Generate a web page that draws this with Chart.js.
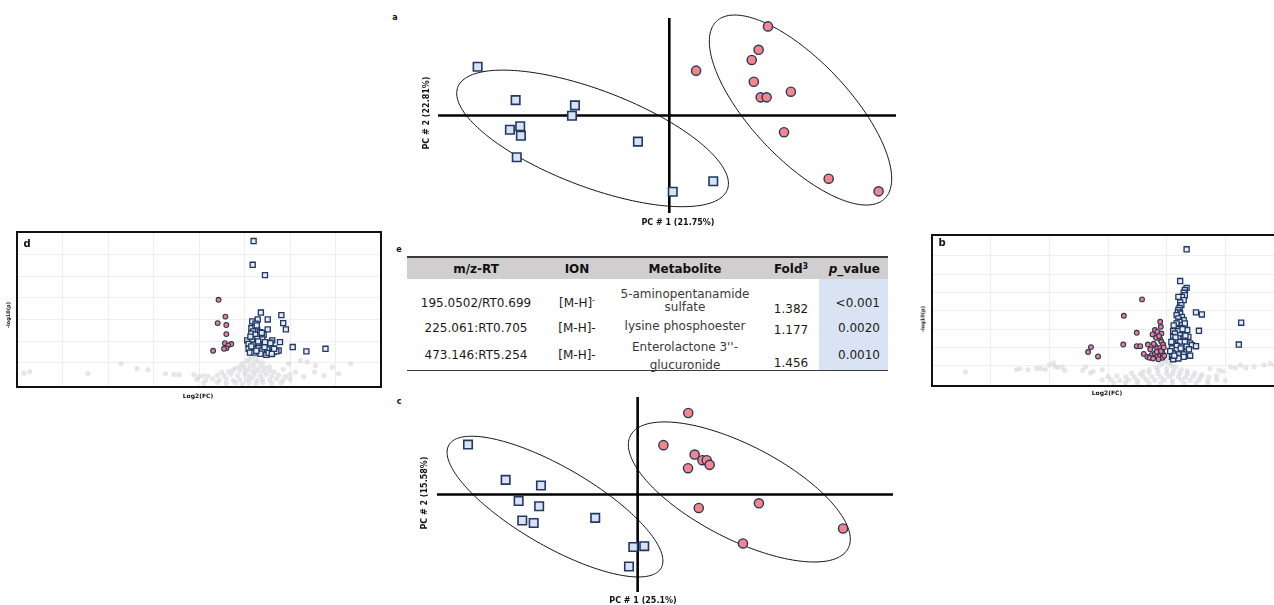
<!DOCTYPE html>
<html>
<head>
<meta charset="utf-8">
<title>PCA, volcano plots and metabolite table</title>
<script src="https://cdn.jsdelivr.net/npm/chart.js@4.4.1/dist/chart.umd.min.js"></script>
<style>
  html, body { margin: 0; padding: 0; background: #fff; }
  body { position: relative; width: 1274px; height: 605px; overflow: hidden; font-family: "DejaVu Sans", Verdana, sans-serif; }
  canvas { position: absolute; }
  .lbl { position: absolute; white-space: nowrap; transform: translate(-50%, -50%); color: #111; line-height: 1; }
  .bold { font-weight: bold; }
  .cell { position: absolute; white-space: nowrap; font-size: 12px; line-height: 1; color: #1a1a1a; }
</style>
</head>
<body>
<canvas id="pcaA" width="478" height="215" style="left:428px; top:8px"></canvas>
<canvas id="pcaC" width="476" height="215" style="left:427px; top:387px"></canvas>
<canvas id="volD" width="384" height="175" style="left:7px; top:222px"></canvas>
<canvas id="volB" width="372" height="171" style="left:922px; top:225px"></canvas>
<div id="tbl"></div>

<script>
// ---------- PCA score plot a ----------
const pcaA_control = [[-8.37,2.50],[-6.71,0.79],[-4.12,0.52],[-4.25,-0.01],[-6.51,-0.55],[-6.96,-0.73],
  [-6.48,-1.04],[-6.66,-2.14],[-1.37,-1.34],[1.92,-3.37],[0.15,-3.91]];
const pcaA_treated = [[4.31,4.57],[3.90,3.37],[3.60,2.85],[1.17,2.30],[3.69,1.73],[5.31,1.22],
  [3.99,0.93],[4.25,0.93],[5.01,-0.86],[6.96,-3.24],[9.14,-3.89]];
const pcaA_xRange = [-10.1, 9.9];
const pcaA_yRange = [-5, 5];
// confidence ellipses: [centre x, centre y, semi-axis 1, semi-axis 2, rotation (deg)]
const pcaA_ellipseControl = [-3.35, -1.175, 6.45, 2.42, -25.05];
const pcaA_ellipseTreated = [5.73, 0.28, 5.86, 2.29, -52.86];

// ---------- PCA score plot c ----------
const pcaC_control = [[-7.44,2.56],[-5.79,0.75],[-4.24,0.46],[-5.22,-0.33],[-4.32,-0.60],[-5.06,-1.33],
  [-4.56,-1.46],[-1.86,-1.20],[-0.19,-2.69],[0.29,-2.65],[-0.38,-3.69]];
const pcaC_treated = [[2.22,4.18],[1.13,2.53],[2.50,2.05],[2.84,1.76],[3.03,1.76],[3.16,1.52],
  [2.21,1.35],[2.68,-0.69],[5.32,-0.45],[9.01,-1.74],[4.62,-2.51]];
const pcaC_xRange = [-8.8, 11.2];
const pcaC_yRange = [-5, 5];
const pcaC_ellipseControl = [-3.625, -0.62, 5.63, 1.93, -35.2];
const pcaC_ellipseTreated = [4.46, 0.13, 5.59, 2.31, -32.7];

// ---------- volcano plot d ----------
const volD_up = [[0.20,6.63],[0.18,5.53],[0.45,5.05],[0.36,3.32],[0.81,3.20],[0.85,2.83],[0.91,2.54],
  [0.29,3.00],[0.51,3.00],[0.17,2.91],[0.24,2.80],[0.51,2.54],[0.15,2.60],[0.24,2.65],[0.28,2.49],
  [0.19,2.44],[0.34,2.41],[0.15,2.34],[0.24,2.29],[0.35,2.26],[0.42,2.29],[0.06,2.03],[0.17,2.07],
  [0.28,2.10],[0.39,2.07],[0.61,2.03],[0.78,1.95],[0.09,1.87],[0.20,1.83],[0.31,1.87],[0.46,1.80],
  [0.57,1.92],[0.09,1.64],[0.20,1.64],[0.31,1.67],[0.39,1.56],[0.50,1.61],[0.64,1.64],[0.75,1.56],
  [0.12,1.46],[0.22,1.46],[0.35,1.41],[0.48,1.36],[0.64,1.49],[0.70,1.52],[1.06,1.72],[1.36,1.52],
  [1.78,1.64],[0.13,2.20],[0.30,1.98],[0.44,1.72],[0.26,1.55],[0.53,1.45],[0.15,1.75],[0.38,2.38],
  [0.27,2.72],[0.45,1.95],[0.60,1.40],[0.57,1.90],[0.65,1.64]];
const volD_down = [[-0.57,3.91],[-0.42,3.13],[-0.59,2.83],[-0.40,2.74],[-0.40,2.32],[-0.43,1.90],
  [-0.29,1.86],[-0.36,1.80],[-0.40,1.67],[-0.45,1.64],[-0.69,1.55]];
const volD_ns = [[-4.85,0.51],[-4.72,0.58],[-3.44,0.49],[-2.71,0.95],[-2.36,0.73],[-2.12,0.67],
  [-1.74,0.49],[-1.55,0.45],[-1.44,0.44],[-1.11,0.45],[-1.0,0.35],[-0.9,0.4],
  [0.97,0.95],[1.23,1.10],[1.38,1.02],[1.56,0.87],[1.12,0.56],[1.54,0.56],[1.93,0.79],[2.07,0.49],
  [2.33,0.95],[1.75,0.4],[0.85,0.7],[1.0,0.45],[1.3,0.35],
  [0.15,1.25],[0.25,1.2],[0.1,1.15],[0.05,1.05],[0.2,1.0],[0.3,1.05],[0.4,0.98],[-0.05,0.95],
  [-0.1,0.82],[0.0,0.78],[0.12,0.85],[0.22,0.8],[0.35,0.82],[0.45,0.75],[0.55,0.8],[-0.2,0.75],
  [-0.35,0.6],[-0.25,0.65],[-0.1,0.62],[0.02,0.6],[0.1,0.66],[0.2,0.58],[0.3,0.64],[0.42,0.6],
  [0.55,0.62],[0.65,0.58],[-0.5,0.55],
  [-0.8,0.38],[-0.6,0.42],[-0.45,0.4],[-0.3,0.45],[-0.15,0.4],[0.0,0.44],[0.1,0.38],[0.22,0.42],
  [0.35,0.4],[0.48,0.45],[0.6,0.38],[0.75,0.42],[0.9,0.36],
  [-1.05,0.22],[-0.85,0.18],[-0.7,0.25],[-0.55,0.2],[-0.4,0.24],[-0.25,0.18],[-0.1,0.22],[0.05,0.2],
  [0.15,0.25],[0.28,0.18],[0.4,0.22],[0.55,0.2],[0.7,0.24],[0.85,0.18],[1.0,0.22],
  [-0.9,0.05],[-0.6,0.08],[-0.4,0.04],[-0.2,0.07],[-0.05,0.03],[0.1,0.06],[0.25,0.04],[0.4,0.08],
  [0.6,0.05],[0.8,0.07]];
const volD_xRange = [-5, 3];
const volD_yRange = [-0.13, 7.05];
const volD_xTicks = [-4, -3, -2, -1, 0, 1, 2];
const volD_yTicks = [1, 2, 3, 4, 5, 6];

// ---------- volcano plot b ----------
const volB_up = [[0.34,7.35],[0.23,5.62],[0.34,5.25],[0.31,5.13],[0.29,4.98],[0.31,4.85],[0.26,4.76],
  [0.20,4.76],[0.29,4.58],[0.23,4.45],[0.25,4.31],[0.22,4.16],[0.20,4.04],[0.19,3.91],[0.23,3.85],
  [0.17,3.76],[0.26,3.67],[0.20,3.58],[0.29,3.49],[0.22,3.40],[0.17,3.31],[0.26,3.22],[0.31,3.31],
  [0.23,3.07],[0.17,3.00],[0.11,2.89],[0.20,2.89],[0.29,2.85],[0.14,2.76],[0.23,2.67],[0.31,2.76],
  [0.11,2.58],[0.20,2.49],[0.29,2.49],[0.37,2.58],[0.14,2.40],[0.23,2.31],[0.31,2.31],[0.40,2.22],
  [0.11,2.22],[0.17,2.09],[0.26,2.04],[0.34,2.04],[0.43,2.13],[0.09,1.95],[0.17,1.85],[0.26,1.80],
  [0.34,1.76],[0.11,1.67],[0.20,1.62],[0.29,1.62],[0.09,1.49],[0.16,1.44],[0.29,1.49],[0.40,1.55],
  [0.11,1.36],[0.20,1.40],[0.50,3.91],[0.60,3.80],[0.55,2.91],[0.50,2.07],[1.27,3.35],[1.23,2.16],
  [0.12,3.20],[0.15,2.55],[0.08,2.30],[0.06,1.80],[0.35,2.95],[0.38,1.90],[0.13,1.55],[0.24,1.95],
  [0.32,2.65],[0.27,3.00]];
const volB_down = [[-0.42,4.62],[-0.73,3.73],[-0.11,3.40],[-0.10,3.13],[-0.20,2.95],[-0.16,2.85],
  [-0.24,2.71],[-0.09,2.76],[-0.51,2.80],[-0.18,2.53],[-0.11,2.45],[-0.09,2.31],[-0.06,2.16],
  [-0.74,2.16],[-0.51,2.07],[-0.45,2.07],[-0.32,2.16],[-0.20,2.09],[-0.16,1.95],[-0.11,1.98],
  [-0.08,1.85],[-1.29,2.02],[-1.34,1.75],[-1.17,1.51],[-0.39,1.65],[-0.33,1.49],[-0.26,1.58],
  [-0.20,1.67],[-0.16,1.49],[-0.11,1.55],[-0.07,1.44],[-0.29,1.44],[-0.23,1.40],[-0.14,1.36],
  [-0.07,1.67],[-0.10,1.80],[-0.17,1.76],[-0.05,2.00],[-0.13,2.62],[-0.22,2.20],[-0.04,1.55],
  [-0.28,1.90]];
const volB_ns = [[-3.43,0.67],[-2.56,0.80],[-2.5,0.84],[-2.36,0.80],[-2.22,0.86],[-2.15,0.86],
  [-2.07,0.8],[-2.0,1.04],[-1.93,1.16],[-1.9,0.95],[-1.85,0.92],[-1.78,0.95],[-1.74,0.76],
  [-1.43,0.76],[-1.38,0.95],[-1.30,0.62],[-1.25,0.7],[-1.1,0.8],
  [0.74,0.85],[0.89,0.76],[0.95,0.7],[1.09,0.95],[1.17,0.88],[1.26,1.04],[1.35,0.9],[1.49,0.95],
  [1.66,1.04],[1.77,1.13],[1.85,1.0],[1.95,1.05],
  [0.0,1.3],[-0.05,1.2],[0.05,1.15],[-0.1,1.05],[0.08,1.02],[0.15,0.95],[-0.18,0.92],
  [-0.3,0.8],[-0.15,0.78],[0.0,0.82],[0.12,0.75],[0.25,0.8],[0.35,0.72],[-0.4,0.7],
  [-0.6,0.6],[-0.45,0.55],[-0.3,0.62],[-0.15,0.58],[0.0,0.6],[0.1,0.55],[0.22,0.6],[0.35,0.55],
  [0.48,0.6],[0.6,0.52],
  [-1.0,0.42],[-0.85,0.45],[-0.7,0.4],[-0.55,0.38],[-0.4,0.42],[-0.25,0.4],[-0.1,0.38],[0.05,0.42],
  [0.2,0.4],[0.32,0.36],[0.45,0.42],[0.58,0.38],[0.72,0.4],[0.85,0.45],
  [-1.1,0.22],[-0.95,0.25],[-0.8,0.2],[-0.65,0.24],[-0.5,0.2],[-0.35,0.25],[-0.2,0.2],[-0.05,0.22],
  [0.1,0.2],[0.25,0.24],[0.4,0.2],[0.55,0.22],[0.7,0.2],[0.85,0.24],[1.0,0.2],
  [-0.9,0.06],[-0.7,0.08],[-0.5,0.05],[-0.3,0.07],[-0.1,0.04],[0.1,0.06],[0.3,0.05],[0.5,0.08],
  [0.7,0.05]];
const volB_xRange = [-4, 2];
const volB_yRange = [-0.1, 8.13];
const volB_xTicks = [-3, -2, -1, 0, 1];
const volB_yTicks = [1, 2, 3, 4, 5, 6, 7];

// ---------- table e ----------
const tableHeaders = ['m/z-RT', 'ION', 'Metabolite', 'Fold<sup style="font-size:8px;vertical-align:4px">3</sup>', '<i>p</i>_value'];
const mzRT = ['195.0502/RT0.699', '225.061:RT0.705', '473.146:RT5.254'];
const ionType = ['[M-H]<sup style="font-size:8px;vertical-align:4px">-</sup>', '[M-H]-', '[M-H]-'];
const metabolite = [['5-aminopentanamide', 'sulfate'], ['lysine phosphoester'], ["Enterolactone 3''-", 'glucuronide']];
const foldChange = ['1.382', '1.177', '1.456'];
const pValue = ['<0.001', '0.0020', '0.0010'];

// ---------- shared drawing helpers ----------
const toPts = arr => arr.map(([x, y]) => ({ x, y }));

const ellipsePlugin = {
  id: 'ellipses',
  beforeDatasetsDraw(chart, args, opts) {
    const { ctx } = chart;
    const xs = chart.scales.x, ys = chart.scales.y;
    ctx.save();
    ctx.strokeStyle = '#111';
    ctx.lineWidth = 1;
    for (const [cx, cy, r1, r2, deg] of (opts.list || [])) {
      const th = deg * Math.PI / 180;
      ctx.beginPath();
      for (let i = 0; i <= 240; i++) {
        const t = i / 240 * 2 * Math.PI;
        const dx = r1 * Math.cos(t), dy = r2 * Math.sin(t);
        const px = xs.getPixelForValue(cx + dx * Math.cos(th) - dy * Math.sin(th));
        const py = ys.getPixelForValue(cy + dx * Math.sin(th) + dy * Math.cos(th));
        if (i === 0) ctx.moveTo(px, py); else ctx.lineTo(px, py);
      }
      ctx.closePath();
      ctx.stroke();
    }
    ctx.restore();
  }
};

const framePlugin = {
  id: 'frame',
  afterDraw(chart) {
    const { ctx, chartArea: a } = chart;
    ctx.save();
    ctx.strokeStyle = '#111';
    ctx.lineWidth = 2;
    ctx.strokeRect(a.left, a.top, a.right - a.left, a.bottom - a.top);
    ctx.restore();
  }
};

function pcaChart(id, control, treated, xr, yr, ellipses) {
  return new Chart(document.getElementById(id), {
    type: 'scatter',
    data: {
      datasets: [
        { data: toPts(control), pointStyle: 'rect', pointRadius: 6, backgroundColor: '#d9e2f3',
          borderColor: '#1f3864', borderWidth: 1.6, order: 0, clip: false },
        { data: toPts(treated), pointStyle: 'circle', pointRadius: 4.6, backgroundColor: '#f4868a',
          borderColor: '#263661', borderWidth: 1.4, order: 1, clip: false },
        { type: 'line', data: [{ x: xr[0], y: 0 }, { x: xr[1], y: 0 }], borderColor: '#000',
          borderWidth: 2.6, pointRadius: 0, order: 5, clip: false },
        { type: 'line', data: [{ x: 0, y: yr[0] }, { x: 0, y: yr[1] }], borderColor: '#000',
          borderWidth: 2.6, pointRadius: 0, order: 5, clip: false }
      ]
    },
    options: {
      responsive: false, animation: false, events: [],
      layout: { padding: 10 },
      plugins: { legend: { display: false }, tooltip: { enabled: false }, ellipses: { list: ellipses } },
      scales: {
        x: { type: 'linear', min: xr[0], max: xr[1], display: false },
        y: { type: 'linear', min: yr[0], max: yr[1], display: false }
      }
    },
    plugins: [ellipsePlugin]
  });
}

function volcanoChart(id, up, down, ns, xr, yr, xTicks, yTicks) {
  const grid = { color: '#eeeeee', lineWidth: 1, drawTicks: false };
  return new Chart(document.getElementById(id), {
    type: 'scatter',
    data: {
      datasets: [
        { data: toPts(up), pointStyle: 'rect', pointRadius: 3.6, backgroundColor: '#e4ebf7',
          borderColor: '#1f3864', borderWidth: 1.3, order: 0 },
        { data: toPts(down), pointStyle: 'circle', pointRadius: 2.4, backgroundColor: '#f07f86',
          borderColor: '#26355e', borderWidth: 1.1, order: 1 },
        { data: toPts(ns), pointStyle: 'circle', pointRadius: 2.6, backgroundColor: 'rgba(212,212,216,0.55)',
          borderWidth: 0, order: 2 }
      ]
    },
    options: {
      responsive: false, animation: false, events: [],
      layout: { padding: 10 },
      plugins: { legend: { display: false }, tooltip: { enabled: false } },
      scales: {
        x: { type: 'linear', min: xr[0], max: xr[1], grid, border: { display: false },
             ticks: { display: false },
             afterBuildTicks: s => { s.ticks = xTicks.map(v => ({ value: v })); },
             afterFit: s => { s.height = 0; } },
        y: { type: 'linear', min: yr[0], max: yr[1], grid, border: { display: false },
             ticks: { display: false },
             afterBuildTicks: s => { s.ticks = yTicks.map(v => ({ value: v })); },
             afterFit: s => { s.width = 0; } }
      }
    },
    plugins: [framePlugin]
  });
}

pcaChart('pcaA', pcaA_control, pcaA_treated, pcaA_xRange, pcaA_yRange, [pcaA_ellipseControl, pcaA_ellipseTreated]);
pcaChart('pcaC', pcaC_control, pcaC_treated, pcaC_xRange, pcaC_yRange, [pcaC_ellipseControl, pcaC_ellipseTreated]);
volcanoChart('volD', volD_up, volD_down, volD_ns, volD_xRange, volD_yRange, volD_xTicks, volD_yTicks);
volcanoChart('volB', volB_up, volB_down, volB_ns, volB_xRange, volB_yRange, volB_xTicks, volB_yTicks);

// ---------- text: panel letters and axis titles ----------
function label(text, x, y, size, rotate) {
  const d = document.createElement('div');
  d.className = 'lbl bold';
  d.style.left = x + 'px';
  d.style.top = y + 'px';
  d.style.fontSize = size + 'px';
  d.style.transform = 'translate(-50%, -50%)' + (rotate ? ' rotate(-90deg)' : '');
  d.textContent = text;
  document.body.appendChild(d);
}
label('a', 395, 18, 8);
label('c', 399, 402, 8);
label('e', 399, 250, 8);
label('d', 27, 244, 10);
label('b', 942, 243, 10);
label('PC # 2 (22.81%)', 427, 113, 8, true);
label('PC # 1 (21.75%)', 678, 223, 8);
label('PC # 2 (15.58%)', 425, 493, 8, true);
label('PC # 1 (25.1%)', 643, 601, 8);
label('-log10(p)', 8, 315, 5, true);
label('Log2(FC)', 198, 396, 6);
label('-log10(p)', 923, 319, 5, true);
label('Log2(FC)', 1107, 393, 6);

// ---------- table e ----------
(function buildTable() {
  const host = document.getElementById('tbl');
  const box = (l, t, w, h, css) => {
    const d = document.createElement('div');
    d.style.cssText = `position:absolute;left:${l}px;top:${t}px;width:${w}px;height:${h}px;${css}`;
    host.appendChild(d);
  };
  // header band, shaded p-value column, rules
  box(407, 257, 481, 22, 'background:#d0cece;');
  box(819, 279, 69, 92, 'background:#dae3f3;');
  box(407, 256, 481, 2, 'background:#3a3a3a;');
  box(407, 370, 481, 1, 'background:#3a3a3a;');

  const cell = (html, x, y, align, css) => {
    const d = document.createElement('div');
    d.className = 'cell';
    d.innerHTML = html;
    d.style.left = x + 'px';
    d.style.top = y + 'px';
    const tx = align === 'right' ? '-100%' : '-50%';
    d.style.transform = `translate(${tx}, -50%)`;
    if (css) d.style.cssText += css;
    host.appendChild(d);
  };
  const colX = [476, 577, 685, 791, 880];
  const colAlign = ['center', 'center', 'center', 'center', 'right'];
  tableHeaders.forEach((h, i) => cell(h, colX[i], 268.5, colAlign[i], 'font-weight:bold;color:#111;'));

  const rowMid = [303, 327.5, 355];
  const rowFold = [308.5, 330, 363];
  const metaLines = [[293.5, 306.5], [326], [346.5, 365]];
  for (let r = 0; r < mzRT.length; r++) {
    cell(mzRT[r], colX[0], rowMid[r], 'center');
    cell(ionType[r], colX[1], rowMid[r], 'center');
    metabolite[r].forEach((line, k) => cell(line, colX[2], metaLines[r][k], 'center', 'color:#3a3a3a;'));
    cell(foldChange[r], colX[3], rowFold[r], 'center');
    cell(pValue[r].replace('<', '&lt;'), colX[4], rowMid[r], 'right');
  }
})();
</script>
</body>
</html>
